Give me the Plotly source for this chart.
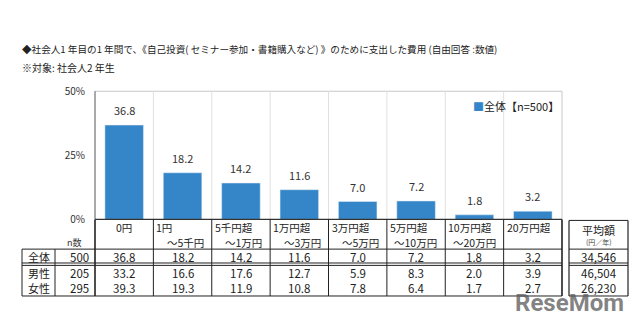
import plotly.graph_objects as go

# ---- data ----
head_top = ["0円", "1円", "5千円超", "1万円超", "3万円超", "5万円超", "10万円超", "20万円超"]
head_bottom = ["", "～5千円", "～1万円", "～3万円", "～5万円", "～10万円", "～20万円", ""]
total = [36.8, 18.2, 14.2, 11.6, 7.0, 7.2, 1.8, 3.2]
male = [33.2, 16.6, 17.6, 12.7, 5.9, 8.3, 2.0, 3.9]
female = [39.3, 19.3, 11.9, 10.8, 7.8, 6.4, 1.7, 2.7]
row_names = ["全体", "男性", "女性"]
row_n = [500, 205, 295]
row_avg = ["34,546", "46,504", "26,230"]
y_ticks = [0, 25, 50]
legend_name = "全体【n=500】"

W, H = 640, 324
FONT = "Noto Sans CJK JP"
BAR = "#3486c8"


def X(px):
    return px / W


def Y(py):
    return 1 - py / H


PL, PR, PT, PB = 95, 562, 87, 221          # plot area in pixels
ncat = len(head_top)
cw = (PR - PL) / ncat


def colx(i):  # boundary pixel of column i
    return PL + i * cw


cats = list(range(ncat))
fig = go.Figure()
fig.add_trace(go.Bar(x=cats, y=total, name=legend_name, marker_color=BAR, width=0.66,
                     showlegend=False))

shapes = []


def line(x0, y0, x1, y1, color="#222", w=1.0):
    shapes.append(dict(type="line", xref="paper", yref="paper",
                       x0=X(x0), y0=Y(y0), x1=X(x1), y1=Y(y1),
                       line=dict(color=color, width=w)))


# plot frame and category separators
line(PL, PT, PR, PT, "#c8c8c8", 1)
line(PR, PT, PR, PB, "#c8c8c8", 1)
for i in range(1, ncat):
    line(colx(i), PT, colx(i), PB, "#e0e0e0", 1)

# table grid
TT, R1, D1, D2, BOT = 221, 252, 266.5, 269, 301
LX, NX = 22, 55
line(PL, TT, PR, TT, "#333", 1.2)
for i in range(0, ncat + 1):
    w = 1.6 if i in (0, ncat) else 1.0
    line(colx(i), TT, colx(i), BOT, "#222", w)
line(PL, PT, PL, TT, "#555", 1)
for yy in (R1, D1, D2, BOT):
    line(LX, yy, PR, yy, "#222", 1)
line(LX, R1, LX, BOT, "#222", 1)
line(NX, R1, NX, BOT, "#222", 1)

# average column
AL, AR = 569, 628
line(AL, 222, AR, 222, "#222", 1)
for yy in (R1, D1, D2, BOT):
    line(AL, yy, AR, yy, "#222", 1)
line(AL, 222, AL, BOT, "#222", 1.2)
line(AR, 222, AR, BOT, "#222", 1.2)

ann = []


def text(px, py, s, size=11, anchor="center", color="#222"):
    ann.append(dict(x=X(px), y=Y(py), xref="paper", yref="paper",
                    text=s, showarrow=False, xanchor=anchor, yanchor="middle",
                    font=dict(size=size, color=color, family=FONT)))


# value labels above the bars
for i, v in enumerate(total):
    ann.append(dict(x=i, y=v, xref="x", yref="y", text=f"{v:.1f}", showarrow=False,
                    xanchor="center", yanchor="bottom", yshift=5,
                    font=dict(size=11, color="#333", family=FONT)))

# legend key
text(471, 102, f"<span style='color:{BAR}'>■</span>{legend_name}", 11, "left")

# title
text(20, 43, "◆社会人1 年目の1 年間で、《自己投資( セミナー参加・書籍購入など) 》のために支出した費用 (自由回答 :数値)", 9.6, "left")
text(20, 62, "※対象: 社会人2 年生", 10, "left")

# header cells
for i in range(ncat):
    if head_bottom[i]:
        text(colx(i) + 1, 229, head_top[i], 10.5, "left")
        text(colx(i + 1) - 6, 245, head_bottom[i], 10.5, "right")
    elif i == 0:
        text(colx(i) + cw / 2, 229, head_top[i], 10.5, "center")
    else:
        text(colx(i) + 1, 229, head_top[i], 10.5, "left")
text(74, 245, "n数", 9, "center", "#333")

# data rows
row_y = [260, 277, 293]
for r, vals in enumerate([total, male, female]):
    text((LX + NX) / 2, row_y[r], row_names[r], 11, "center")
    text(91, row_y[r], str(row_n[r]), 11.5, "right")
    for i, v in enumerate(vals):
        ann.append(dict(x=i, y=Y(row_y[r]), xref="x", yref="paper", text=f"{v:.1f}",
                        showarrow=False, xanchor="center", yanchor="middle",
                        font=dict(size=11.5, color="#222", family=FONT)))
    text((AL + AR) / 2, row_y[r], row_avg[r], 11.5, "center")

text((AL + AR) / 2, 232, "平均額", 11, "center")
text((AL + AR) / 2, 245, "(円／年)", 7, "center", "#444")

# watermark
ann.append(dict(x=X(626), y=Y(308), xref="paper", yref="paper", text="<b>ReseMom</b>",
                showarrow=False, xanchor="right", yanchor="middle",
                font=dict(size=24, color="rgba(90,90,90,0.75)", family="Roboto")))

fig.update_layout(
    width=W, height=H, margin=dict(l=0, r=0, t=0, b=0),
    paper_bgcolor="white", plot_bgcolor="white",
    font=dict(family=FONT, color="#333"),
    xaxis=dict(domain=[X(PL), X(PR)], range=[-0.5, ncat - 0.5], showticklabels=False,
               showgrid=False, zeroline=False, showline=False, fixedrange=True),
    yaxis=dict(domain=[Y(PB), Y(PT)], range=[0, 50], tickvals=y_ticks,
               ticktext=[f"{t}%" for t in y_ticks], showgrid=False, zeroline=False,
               showline=False, ticks="", ticklabelstandoff=9,
               tickfont=dict(size=10, color="#333", family=FONT)),
    shapes=shapes, annotations=ann, showlegend=False,
)

fig.write_html("out.html")
